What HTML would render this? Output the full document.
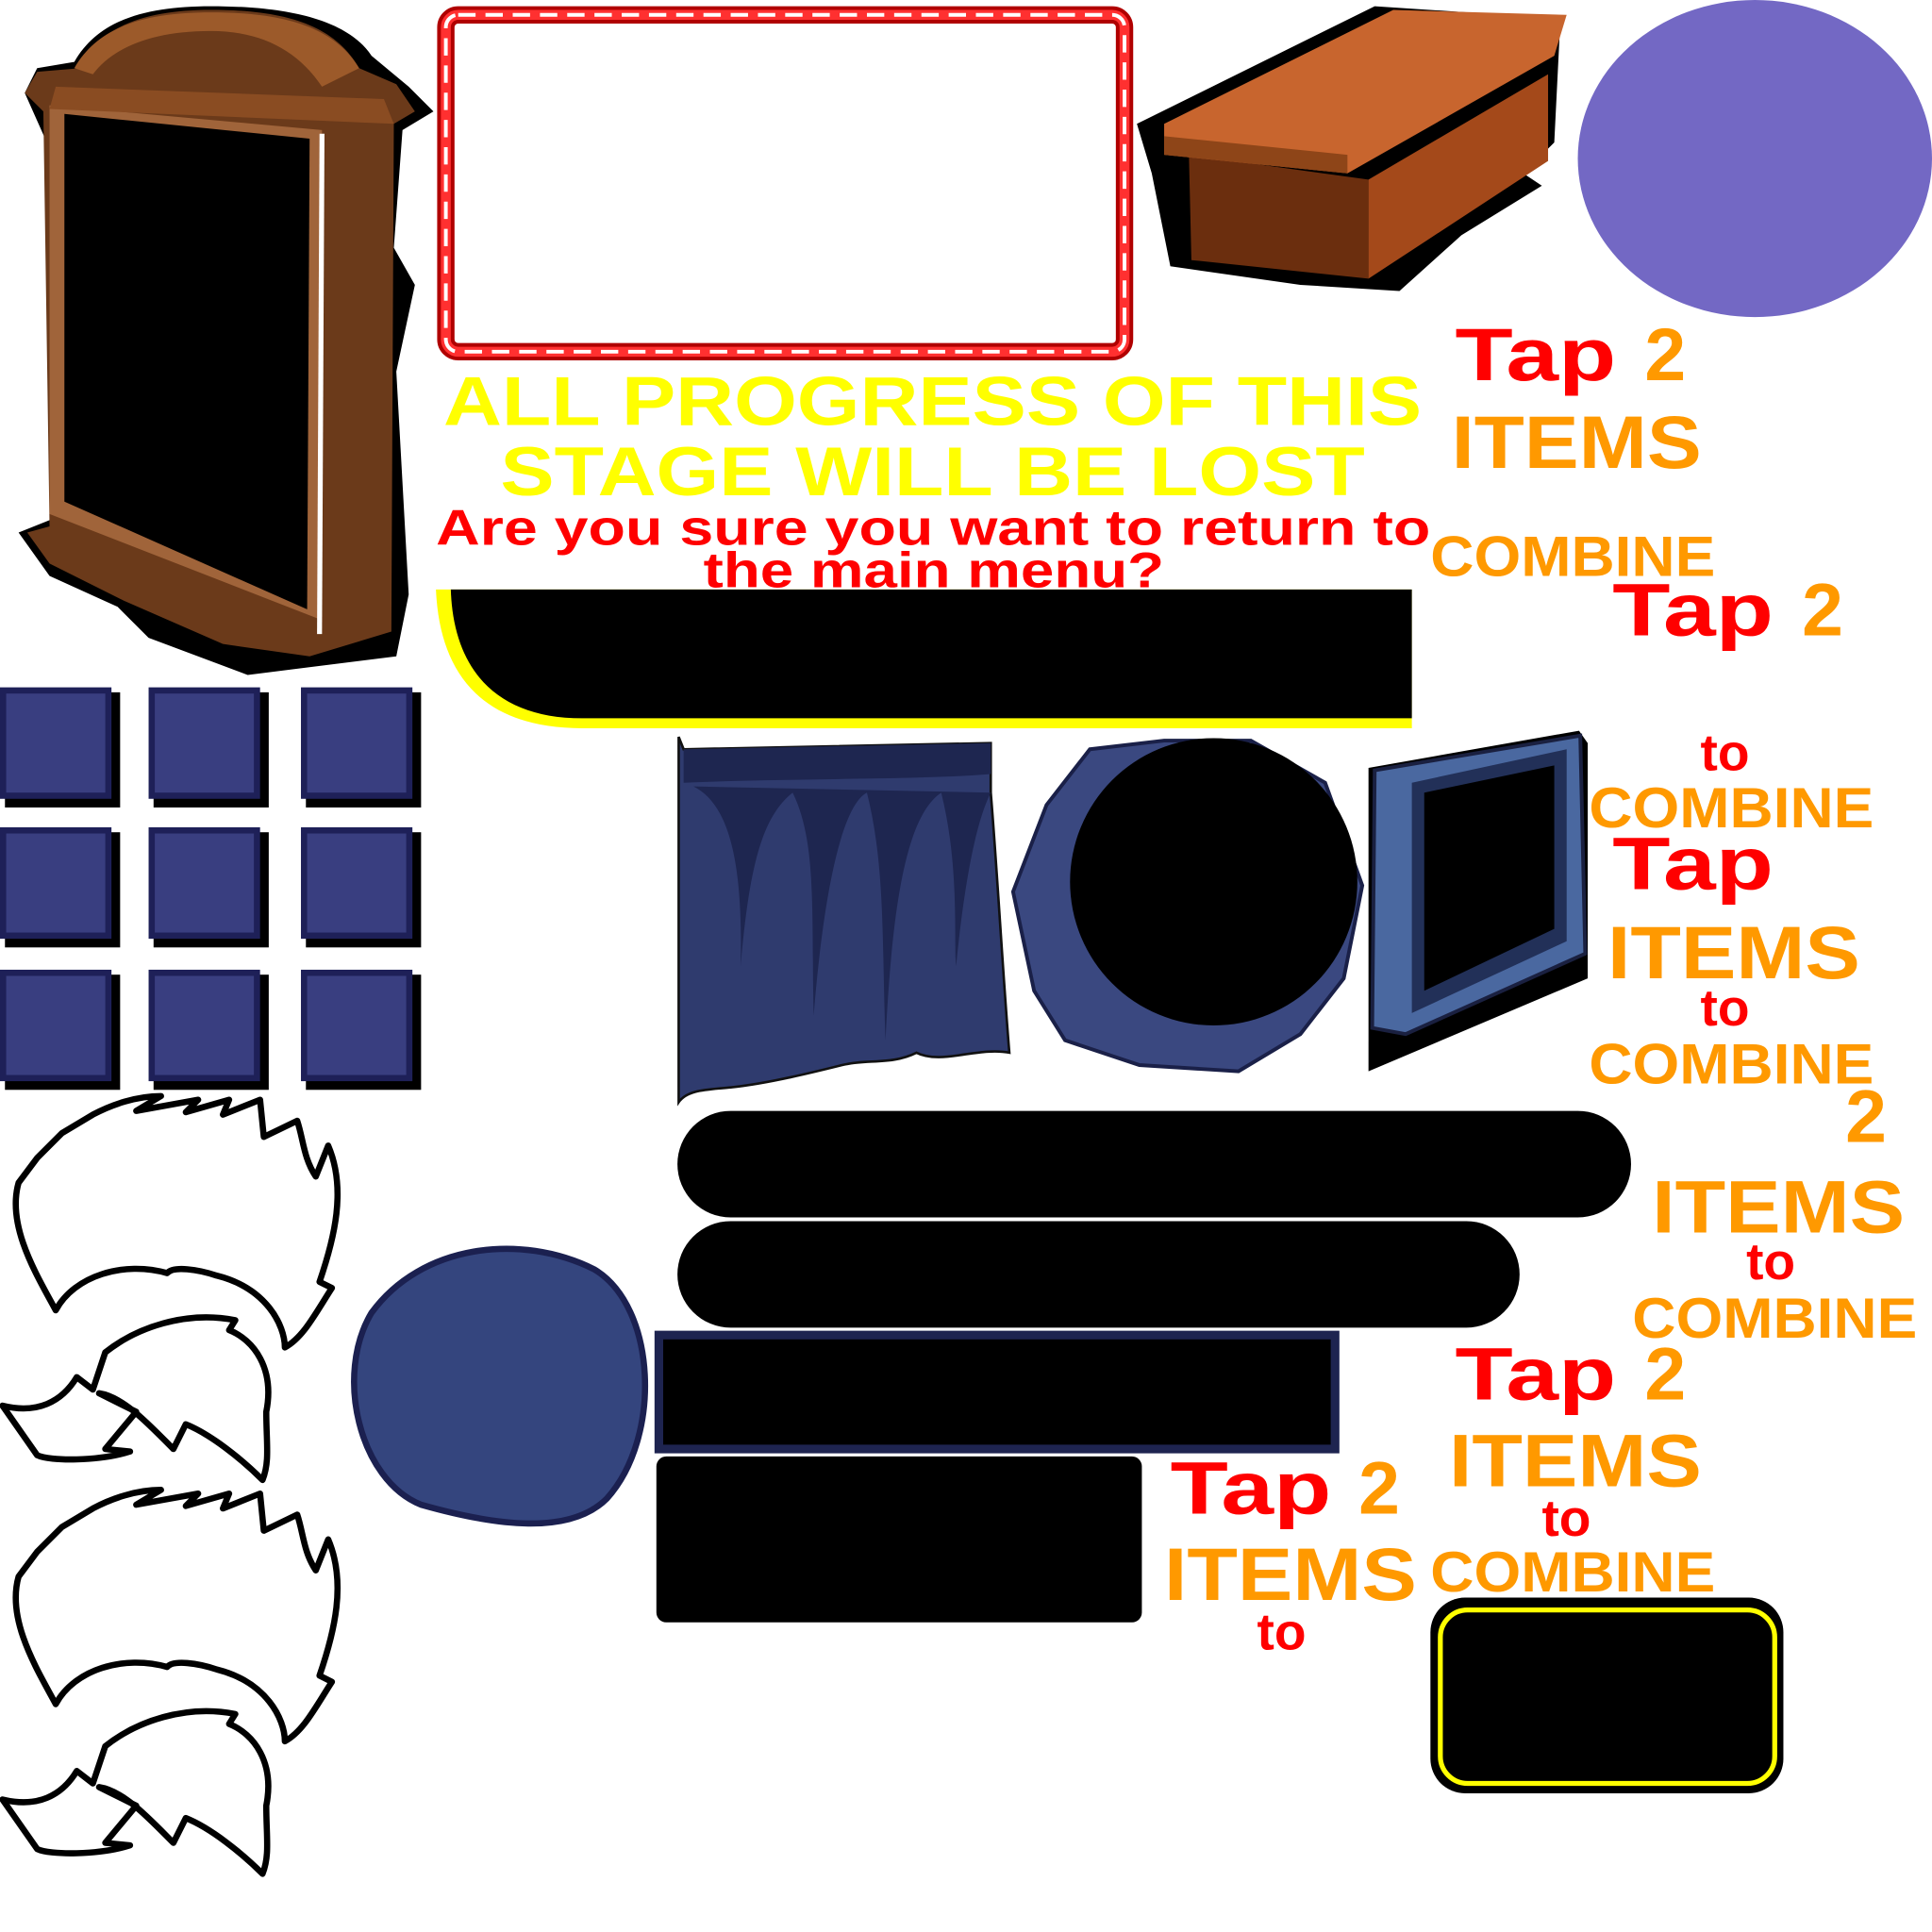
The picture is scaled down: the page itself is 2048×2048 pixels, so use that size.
<!DOCTYPE html>
<html><head><meta charset="utf-8"><style>
html,body{margin:0;padding:0;background:#fff;}
svg{display:block;}
text{font-family:"Liberation Sans",sans-serif;font-weight:bold;}
</style></head><body>
<svg width="2048" height="2048" viewBox="0 0 1560 1560" xmlns="http://www.w3.org/2000/svg">
<!-- wardrobe -->
<path d="M15,430 L40,420 L40,120 L20,75 L30,55 L60,50 C80,15 120,5 170,5 C230,5 280,15 300,45 L330,70 L350,90 L325,105 L318,200 L335,230 L320,300 L330,480 L320,530 L240,540 L200,545 L120,515 L95,490 L40,465 Z" fill="#000"/>
<path d="M22,430 L40,425 L35,90 L20,75 L30,58 L65,55 C80,20 120,8 170,8 C230,8 270,20 290,55 L320,68 L335,90 L318,100 L316,510 L250,530 L180,520 L100,485 L40,455 Z" fill="#6b3a1a"/>
<path d="M60,55 C80,20 120,10 170,10 C230,10 270,22 290,55 L260,70 C240,40 210,25 170,25 C120,25 90,40 75,60 Z" fill="#9c5a2a"/>
<path d="M40,85 L260,105 L258,500 L40,415 Z" fill="#a0643a"/>
<path d="M52,92 L250,112 L248,492 L52,405 Z" fill="#000"/>
<path d="M258,108 L262,108 L260,512 L256,512 Z" fill="#fff"/>
<path d="M45,70 L310,80 L318,100 L40,88 Z" fill="#8a4c22"/>
<!-- rope frame -->
<rect x="360" y="12" width="548" height="272" rx="10" fill="none" stroke="#b00000" stroke-width="14"/>
<rect x="360" y="12" width="548" height="272" rx="10" fill="none" stroke="#ff3030" stroke-width="8"/>
<rect x="360" y="12" width="548" height="272" rx="10" fill="none" stroke="#fff" stroke-width="3" stroke-dasharray="14 8"/>
<!-- box -->
<path d="M918,100 L1110,5 L1260,15 L1255,115 L1230,140 L1245,150 L1180,190 L1130,235 L1050,230 L945,215 L930,140 Z" fill="#000"/>
<path d="M960,125 L1105,145 L1105,225 L962,210 Z" fill="#6b2e0e"/>
<path d="M1105,145 L1250,60 L1250,130 L1105,225 Z" fill="#a4491a"/>
<path d="M940,100 L1125,8 L1265,12 L1255,45 L1088,140 L940,125 Z" fill="#c8652e"/>
<path d="M940,110 L1088,125 L1088,140 L940,125 Z" fill="#8e4518"/>
<!-- purple -->
<ellipse cx="1417" cy="128" rx="143" ry="128" fill="#7368c4"/>
<!-- yellow text -->
<text x="753" y="343" font-size="56" fill="#ffff00" text-anchor="middle" textLength="790" lengthAdjust="spacingAndGlyphs">ALL PROGRESS OF THIS</text>
<text x="753" y="400" font-size="56" fill="#ffff00" text-anchor="middle" textLength="698" lengthAdjust="spacingAndGlyphs">STAGE WILL BE LOST</text>
<text x="352" y="440" font-size="40" fill="#ff0000" textLength="803" lengthAdjust="spacingAndGlyphs">Are you sure you want to return to</text>
<text x="568" y="474" font-size="40" fill="#ff0000" textLength="372" lengthAdjust="spacingAndGlyphs">the main menu?</text>
<!-- black bar with yellow -->
<path d="M352,476 L1140,476 L1140,588 L470,588 C390,588 355,545 352,476 Z" fill="#ffff00"/>
<path d="M364,476 L1140,476 L1140,580 L470,580 C400,580 366,540 364,476 Z" fill="#000"/>
<!-- squares -->
<g>
<g id="sq"><rect x="4" y="559" width="93" height="93" fill="#000"/><rect x="0" y="555" width="90" height="90" fill="#1e2058"/><rect x="5" y="560" width="80" height="80" fill="#393e80"/></g>
<use href="#sq" x="120"/><use href="#sq" x="243"/>
<use href="#sq" y="113"/><use href="#sq" x="120" y="113"/><use href="#sq" x="243" y="113"/>
<use href="#sq" y="228"/><use href="#sq" x="120" y="228"/><use href="#sq" x="243" y="228"/>
</g>
<!-- curtain -->
<path d="M548,595 L552,605 L800,600 L800,640 C805,700 810,790 815,850 C790,845 760,860 740,850 C720,860 700,855 680,860 C660,865 620,875 590,878 C570,880 555,880 548,890 Z" fill="#2f3b6e" stroke="#111" stroke-width="2"/>
<path d="M552,605 L800,600 L800,625 C740,630 650,628 552,632 Z" fill="#1e2650"/>
<path d="M560,635 C590,650 600,700 598,780 C605,700 615,660 640,640 C660,680 655,740 657,820 C665,720 680,650 700,640 C715,700 712,760 715,840 C720,740 730,660 760,640 C775,700 770,760 772,780 C780,700 790,660 800,640 Z" fill="#1e2650"/>
<!-- blob -->
<path d="M880,605 L940,598 L1010,598 L1070,632 L1100,715 L1085,790 L1050,835 L1000,865 L920,860 L860,840 L835,800 L818,720 L845,650 Z" fill="#3a4880" stroke="#1a2048" stroke-width="3"/>
<circle cx="980" cy="712" r="116" fill="#000"/>
<!-- TV -->
<path d="M1105,620 L1275,590 L1282,600 L1282,790 L1105,865 Z" fill="#000"/>
<path d="M1110,622 L1276,594 L1280,770 L1135,835 L1108,830 Z" fill="#4a68a0" stroke="#1a2040" stroke-width="3"/>
<path d="M1140,632 L1265,605 L1265,760 L1140,818 Z" fill="#223058"/>
<path d="M1150,640 L1255,618 L1255,750 L1150,800 Z" fill="#000"/>
<!-- pills -->
<rect x="547" y="897" width="770" height="86" rx="43" fill="#000"/>
<rect x="547" y="986" width="680" height="86" rx="43" fill="#000"/>
<!-- blue circle -->
<path d="M300,1060 C340,1005 420,995 480,1025 C530,1055 535,1160 490,1210 C460,1240 400,1232 340,1215 C290,1195 270,1110 300,1060 Z" fill="#34457e" stroke="#1b2050" stroke-width="5"/>
<!-- rects -->
<rect x="532" y="1078" width="546" height="92" fill="#000" stroke="#1e2450" stroke-width="7"/>
<rect x="530" y="1176" width="392" height="134" rx="8" fill="#000"/>
<rect x="1155" y="1290" width="285" height="158" rx="28" fill="#000"/>
<rect x="1163" y="1300" width="270" height="140" rx="22" fill="none" stroke="#ffff00" stroke-width="4"/>
<!-- hair -->
<g id="h1" fill="#fff" stroke="#000" stroke-width="5" stroke-linejoin="round">
<path d="M45,1058 C30,1030 5,990 15,955 L30,935 L50,915 L75,900 C90,892 110,885 130,885 L110,897 L160,888 L150,898 L185,888 L180,900 L210,888 L213,918 L240,905 C245,920 245,935 255,950 L265,925 C280,960 270,1000 258,1035 L268,1040 C255,1060 245,1080 230,1088 C230,1070 215,1040 175,1030 C160,1025 140,1022 135,1028 C100,1018 60,1030 45,1058 Z"/>
<path d="M2,1135 C30,1142 50,1132 62,1112 L75,1122 L85,1092 C110,1072 150,1058 190,1066 L185,1074 C205,1082 222,1105 215,1140 C215,1165 218,1180 212,1195 C195,1178 170,1158 150,1150 L140,1170 C120,1150 100,1128 80,1125 L110,1140 L85,1170 L105,1172 C80,1180 40,1180 30,1175 Z"/>
</g>
<use href="#h1" y="318"/>
<!-- right texts -->
<g font-size="60">
<text x="1175" y="307" fill="#ff0000" textLength="130" lengthAdjust="spacingAndGlyphs">Tap</text>
<text x="1328" y="307" fill="#ff9900">2</text>
<text x="1172" y="378" fill="#ff9900" textLength="202" lengthAdjust="spacingAndGlyphs">ITEMS</text>
<text x="1155" y="465" font-size="46" fill="#ff9900" textLength="230" lengthAdjust="spacingAndGlyphs">COMBINE</text>
<text x="1302" y="513" fill="#ff0000" textLength="130" lengthAdjust="spacingAndGlyphs">Tap</text>
<text x="1455" y="513" fill="#ff9900">2</text>
<text x="1373" y="622" font-size="42" fill="#ff0000">to</text>
<text x="1283" y="668" font-size="46" fill="#ff9900" textLength="230" lengthAdjust="spacingAndGlyphs">COMBINE</text>
<text x="1302" y="718" fill="#ff0000" textLength="130" lengthAdjust="spacingAndGlyphs">Tap</text>
<text x="1298" y="790" fill="#ff9900" textLength="204" lengthAdjust="spacingAndGlyphs">ITEMS</text>
<text x="1373" y="828" font-size="42" fill="#ff0000">to</text>
<text x="1283" y="875" font-size="46" fill="#ff9900" textLength="230" lengthAdjust="spacingAndGlyphs">COMBINE</text>
<text x="1490" y="922" fill="#ff9900">2</text>
<text x="1334" y="995" fill="#ff9900" textLength="204" lengthAdjust="spacingAndGlyphs">ITEMS</text>
<text x="1410" y="1033" font-size="42" fill="#ff0000">to</text>
<text x="1318" y="1080" font-size="46" fill="#ff9900" textLength="230" lengthAdjust="spacingAndGlyphs">COMBINE</text>
<text x="1175" y="1130" fill="#ff0000" textLength="130" lengthAdjust="spacingAndGlyphs">Tap</text>
<text x="1328" y="1130" fill="#ff9900">2</text>
<text x="1170" y="1200" fill="#ff9900" textLength="204" lengthAdjust="spacingAndGlyphs">ITEMS</text>
<text x="1245" y="1240" font-size="42" fill="#ff0000">to</text>
<text x="1155" y="1285" font-size="46" fill="#ff9900" textLength="230" lengthAdjust="spacingAndGlyphs">COMBINE</text>
<text x="945" y="1222" fill="#ff0000" textLength="130" lengthAdjust="spacingAndGlyphs">Tap</text>
<text x="1097" y="1222" fill="#ff9900">2</text>
<text x="940" y="1292" fill="#ff9900" textLength="204" lengthAdjust="spacingAndGlyphs">ITEMS</text>
<text x="1015" y="1332" font-size="42" fill="#ff0000">to</text>
</g>
</svg>
</body></html>
